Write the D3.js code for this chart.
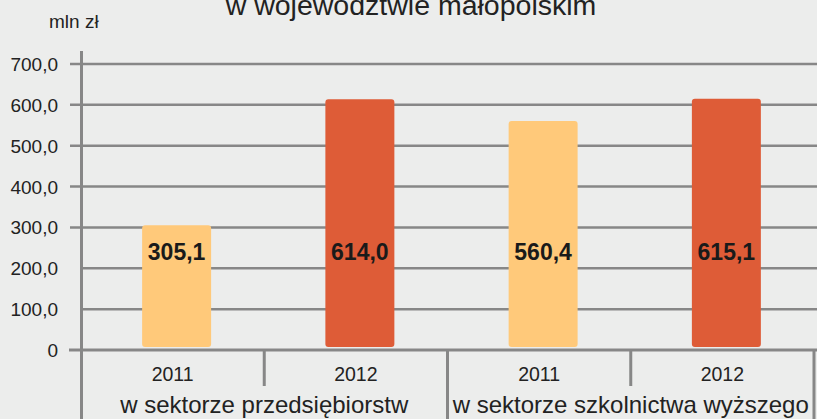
<!DOCTYPE html>
<html lang="pl">
<head>
<meta charset="UTF-8">
<title>Nakłady na B+R w województwie małopolskim</title>
<style>
  body { margin: 0; background: #ecedec; }
  svg { display: block; font-family: "Liberation Sans", Arial, sans-serif; }
  .grid { stroke: #878787; stroke-width: 2.5; }
  .sep { stroke: #878787; stroke-width: 3; }
  .tick-label { font-size: 19px; fill: #222; text-anchor: end; }
  .year { font-size: 19.5px; fill: #222; text-anchor: middle; }
  .group { font-size: 24px; fill: #222; text-anchor: middle; }
  .val { font-size: 23px; font-weight: bold; fill: #1a1a1a; text-anchor: middle; }
</style>
</head>
<body>
<script src="https://d3js.org/d3.v7.min.js"></script>
<script>
  // dane
  var groups = ['w sektorze przedsiębiorstw', 'w sektorze szkolnictwa wyższego'];
  var years = ['2011', '2012'];
  var values2011 = [305.1, 560.4];
  var values2012 = [614.0, 615.1];
  var yTicks = [0, 100, 200, 300, 400, 500, 600, 700];
  var colors = {'2011': '#ffc97a', '2012': '#de5c37'};

  var rows = [];
  groups.forEach(function(g, i){
    rows.push({group: g, year: '2011', value: values2011[i]});
    rows.push({group: g, year: '2012', value: values2012[i]});
  });

  var W = 817, H = 419;
  var left = 81, right = 814, base = 350, yTop = 64;

  var svg = d3.select('body').append('svg')
    .attr('width', W)
    .attr('height', H);

  svg.append('rect').attr('width', W).attr('height', H).attr('fill', '#ecedec');

  var y = d3.scaleLinear().domain([0, 700]).range([base, yTop]);
  var x0 = d3.scaleBand().domain(groups).range([left, right]);
  var x1 = d3.scaleBand().domain(years).range([0, x0.bandwidth()])
    .paddingInner(0.6235).paddingOuter(0.31175).align(0.535);

  var fmt = function(v){ return v === 0 ? '0' : d3.format('.1f')(v).replace('.', ','); };

  // siatka
  svg.selectAll('.grid')
    .data(yTicks.filter(function(d){ return d > 0; }))
    .enter().append('line')
      .attr('class', 'grid')
      .attr('x1', function(d){ return d >= 300 ? 70 : left; })
      .attr('x2', W)
      .attr('y1', function(d){ return y(d); })
      .attr('y2', function(d){ return y(d); });

  svg.selectAll('.tick-label')
    .data(yTicks)
    .enter().append('text')
      .attr('class', 'tick-label')
      .attr('x', 58)
      .attr('y', function(d){ return y(d) + 7; })
      .text(fmt);

  svg.append('text')
    .attr('x', 49).attr('y', 28)
    .style('font-size', '19px').style('fill', '#222')
    .text('mln zł');

  svg.append('text')
    .attr('x', 411).attr('y', 15)
    .attr('text-anchor', 'middle')
    .style('font-size', '28.5px').style('fill', '#222')
    .text('w województwie małopolskim');

  // słupki
  var bar = svg.selectAll('.bar')
    .data(rows)
    .enter().append('g')
      .attr('transform', function(d){ return 'translate(' + (x0(d.group) + x1(d.year)) + ',0)'; });

  bar.append('rect')
    .attr('width', x1.bandwidth())
    .attr('y', function(d){ return y(d.value); })
    .attr('height', function(d){ return base - 3 - y(d.value); })
    .attr('rx', 3)
    .attr('fill', function(d){ return colors[d.year]; });

  bar.append('text')
    .attr('class', 'val')
    .attr('x', x1.bandwidth() / 2)
    .attr('y', 260)
    .text(function(d){ return fmt(d.value); });

  // osie
  svg.append('line').attr('class', 'sep')
    .attr('x1', 69).attr('x2', W).attr('y1', base).attr('y2', base);
  svg.append('line').attr('class', 'sep')
    .attr('x1', left + 0.5).attr('x2', left + 0.5).attr('y1', 51).attr('y2', H);

  groups.forEach(function(g){
    var gx = x0(g);
    svg.append('line').attr('class', 'sep')
      .attr('x1', gx + x0.bandwidth()).attr('x2', gx + x0.bandwidth())
      .attr('y1', base).attr('y2', H);
    svg.append('line').attr('class', 'sep')
      .attr('x1', gx + x0.bandwidth() / 2).attr('x2', gx + x0.bandwidth() / 2)
      .attr('y1', base).attr('y2', 386);
    years.forEach(function(yr, j){
      svg.append('text').attr('class', 'year')
        .attr('x', gx + x0.bandwidth() / 4 * (2 * j + 1))
        .attr('y', 381)
        .text(yr);
    });
    svg.append('text').attr('class', 'group')
      .attr('x', gx + x0.bandwidth() / 2)
      .attr('y', 413)
      .text(g);
  });
</script>
</body>
</html>
